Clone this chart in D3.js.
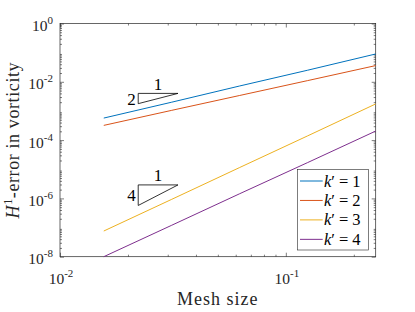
<!DOCTYPE html>
<html>
<head>
<meta charset="utf-8">
<script src="https://cdn.jsdelivr.net/npm/d3@7"></script>
<style>
  body { margin: 0; background: #fff; }
</style>
</head>
<body>
<div id="chart"></div>
<script>
const meshSize = [1/64, 1/32, 1/16, 1/8, 1/4];
const err1 = [5.7e-4, 2.0e-3, 7.2e-3, 2.5e-2, 9.0e-2];
const err2 = [3.2e-4, 1.05e-3, 3.4e-3, 1.1e-2, 3.6e-2];
const err3 = [7.6e-8, 9.3e-7, 1.15e-5, 1.4e-4, 1.74e-3];
const err4 = [1.0e-8, 1.2e-7, 1.45e-6, 1.7e-5, 2.04e-4];
const seriesNames = ["1", "2", "3", "4"];
const seriesColors = ["#0072BD", "#D95319", "#EDB120", "#7E2F8E"];

// slope triangles: x extent, top value, rate
const triX = [0.0222, 0.0333];
const triTop = [4.0e-3, 2.9e-6];
const triRate = [2, 4];

const xTicks = [0.01, 0.1];
const xTickExp = ["-2", "-1"];
const yTicks = [1, 1e-2, 1e-4, 1e-6, 1e-8];
const yTickExp = ["0", "-2", "-4", "-6", "-8"];

const W = 415, H = 312;
const margin = {top: 23.5, right: 39.3, bottom: 55.3, left: 60};
const axisColor = "#262626";
const serif = "'Liberation Serif', 'Times New Roman', serif";

const svg = d3.select("#chart").append("svg")
    .attr("width", W).attr("height", H)
    .attr("font-family", serif);

const x = d3.scaleLog().domain([0.01, 0.25]).range([margin.left, W - margin.right]);
const y = d3.scaleLog().domain([1e-8, 1]).range([H - margin.bottom, margin.top]);

const x0 = margin.left, x1 = W - margin.right, y0 = H - margin.bottom, y1 = margin.top;

// minor tick values
let xMinor = [];
for (let d = 0.01; d < 1; d *= 10) {
    for (let k = 2; k <= 9; k++) { if (k * d <= 0.25) xMinor.push(k * d); }
}
let yMinor = [];
for (let e = -8; e < 0; e++) {
    for (let k = 2; k <= 9; k++) yMinor.push(k * Math.pow(10, e));
}

function drawAxis(axisFn, scale, pos, ticks, size) {
    svg.append("g")
        .attr("transform", pos)
        .call(axisFn(scale).tickValues(ticks).tickSize(size).tickFormat(""))
        .call(g => g.select(".domain").remove())
        .selectAll("line").attr("stroke", axisColor).attr("stroke-width", 0.6);
}
drawAxis(d3.axisBottom, x, `translate(0,${y0})`, xTicks, -4);
drawAxis(d3.axisBottom, x, `translate(0,${y0})`, xMinor, -2);
drawAxis(d3.axisTop, x, `translate(0,${y1})`, xTicks, -4);
drawAxis(d3.axisTop, x, `translate(0,${y1})`, xMinor, -2);
drawAxis(d3.axisLeft, y, `translate(${x0},0)`, yTicks, -4);
drawAxis(d3.axisLeft, y, `translate(${x0},0)`, yMinor, -2);
drawAxis(d3.axisRight, y, `translate(${x1},0)`, yTicks, -4);
drawAxis(d3.axisRight, y, `translate(${x1},0)`, yMinor, -2);

// box
svg.append("rect")
    .attr("x", x0).attr("y", y1)
    .attr("width", x1 - x0).attr("height", y0 - y1)
    .attr("fill", "none").attr("stroke", axisColor).attr("stroke-width", 0.7);

// data lines
const allErr = [err1, err2, err3, err4];
const line = d3.line().x(d => x(d[0])).y(d => y(d[1]));
allErr.forEach((errs, i) => {
    svg.append("path")
        .datum(meshSize.map((h, j) => [h, errs[j]]))
        .attr("fill", "none")
        .attr("stroke", seriesColors[i])
        .attr("stroke-width", 1)
        .attr("d", line);
});

// slope triangles
triTop.forEach((top, i) => {
    const bottom = top * Math.pow(triX[0] / triX[1], triRate[i]);
    const pts = [[triX[0], top], [triX[1], top], [triX[0], bottom]];
    svg.append("path")
        .attr("d", "M" + pts.map(p => [x(p[0]), y(p[1])].join(",")).join("L") + "Z")
        .attr("fill", "none").attr("stroke", "#000").attr("stroke-width", 0.8);
    svg.append("text")
        .attr("font-family", serif)
        .attr("x", (x(triX[0]) + x(triX[1])) / 2)
        .attr("y", y(top) - 3.5)
        .attr("text-anchor", "middle")
        .attr("font-size", 17)
        .text("1");
    svg.append("text")
        .attr("font-family", serif)
        .attr("x", x(triX[0]) - 2.5)
        .attr("y", (y(top) + y(bottom)) / 2 + 6)
        .attr("text-anchor", "end")
        .attr("font-size", 17)
        .text(triRate[i]);
});

// tick labels
xTicks.forEach((t, i) => {
    const tx = svg.append("text")
        .attr("font-family", serif)
        .attr("x", x(t) + 1)
        .attr("y", y0 + 27.5)
        .attr("text-anchor", "middle")
        .attr("font-size", 15.5)
        .attr("fill", axisColor);
    tx.append("tspan").text("10");
    tx.append("tspan").attr("font-size", 11).attr("dy", -7).text(xTickExp[i]);
});
yTicks.forEach((t, i) => {
    const ty = svg.append("text")
        .attr("font-family", serif)
        .attr("x", x0 - 7)
        .attr("y", y(t) + 7.5)
        .attr("text-anchor", "end")
        .attr("font-size", 15.5)
        .attr("fill", axisColor);
    ty.append("tspan").text("10");
    ty.append("tspan").attr("font-size", 11).attr("dy", -7).text(yTickExp[i]);
});

// axis titles
svg.append("text")
    .attr("font-family", serif)
    .attr("x", (x0 + x1) / 2)
    .attr("y", H - 7)
    .attr("text-anchor", "middle")
    .attr("font-size", 18)
    .attr("letter-spacing", 1)
    .attr("fill", axisColor)
    .text("Mesh size");

const yl = svg.append("text")
    .attr("font-family", serif)
    .attr("transform", `translate(19,${(y0 + y1) / 2}) rotate(-90)`)
    .attr("text-anchor", "middle")
    .attr("font-size", 18)
    .attr("letter-spacing", 0.6)
    .attr("fill", axisColor);
yl.append("tspan").attr("font-style", "italic").text("H");
yl.append("tspan").attr("font-size", 12).attr("dy", -7).text("1");
yl.append("tspan").attr("dy", 7).text("-error in vorticity");

// legend
const lg = svg.append("g");
lg.append("rect")
    .attr("x", 297.3).attr("y", 169.3)
    .attr("width", 71).attr("height", 80.7)
    .attr("fill", "#fff").attr("stroke", axisColor).attr("stroke-width", 0.6);
seriesNames.forEach((name, i) => {
    const ly = 181 + i * 19.45;
    lg.append("line")
        .attr("x1", 300).attr("x2", 322.7)
        .attr("y1", ly).attr("y2", ly)
        .attr("stroke", seriesColors[i]).attr("stroke-width", 1);
    const t = lg.append("text")
        .attr("font-family", serif)
        .attr("x", 324).attr("y", ly + 5.5)
        .attr("font-size", 16.5)
        .attr("fill", "#000");
    t.append("tspan").attr("font-style", "italic").text("k");
    t.append("tspan").text("\u2032");
    t.append("tspan").attr("dx", 4).text("=");
    t.append("tspan").attr("dx", 4).text(name);
});
</script>
</body>
</html>
